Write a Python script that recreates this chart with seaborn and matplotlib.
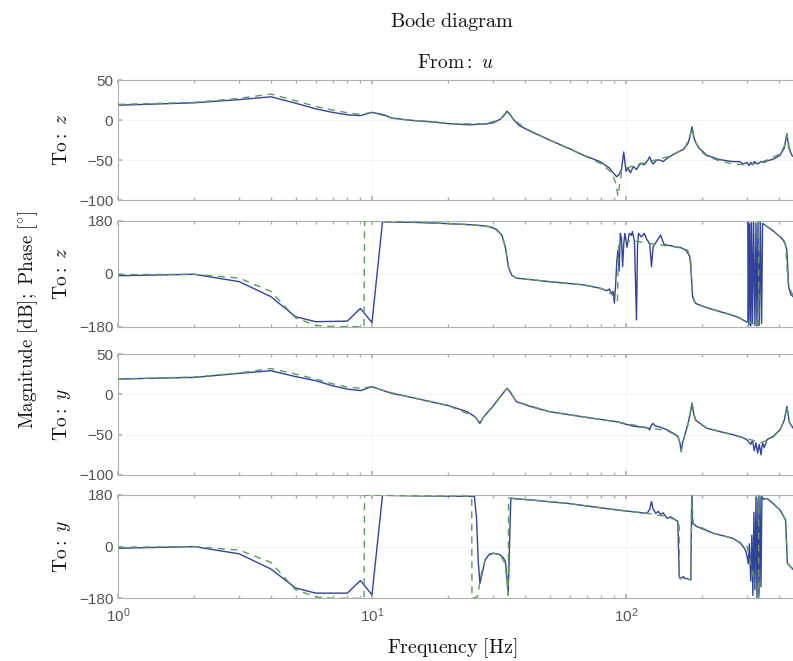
import numpy as np
import pandas as pd
import matplotlib
matplotlib.use("Agg")
import matplotlib.pyplot as plt
import seaborn as sns
from matplotlib.ticker import LogLocator, FixedLocator, NullFormatter

# ---------------- data ----------------
# Panel 1: magnitude, To: z
mz_f = [1, 2, 3, 4, 5, 6, 7, 8, 9, 10, 11, 12, 13, 15, 17, 20, 24, 28, 30, 32, 33, 34, 35, 36, 38, 42,
        50, 60, 68, 79, 86, 89, 92, 94, 96, 98, 100, 102, 104, 107, 110, 114, 118, 122, 124, 126, 128,
        132, 136, 140, 145, 150, 160, 168, 175, 179, 182, 185, 188, 195, 208, 230, 250, 264, 280, 290,
        300, 305, 310, 315, 320, 330, 340, 350, 360, 380, 404, 420, 430, 438, 450, 460]
mz_v = [18.5, 21.5, 25.5, 29, 21, 14, 9.5, 6.5, 5.5, 9.5, 7, 2.5, 1, -1, -2, -4.5, -6, -5, -3.5, 1, 5, 11,
        7, 1, -7, -14, -25, -36, -44, -52, -60, -66, -71, -68, -62, -40, -64, -60, -66, -58, -62, -54,
        -56, -50, -46, -52, -55, -50, -50, -52, -48, -45, -40, -37, -30, -20, -8.5, -22, -28, -36, -44,
        -49, -51, -52, -52, -55, -53, -57, -53, -56, -52, -55, -52, -53, -51, -49, -44, -35, -17, -35,
        -44, -47]
gz_f = [1, 2, 3, 4, 5, 6, 7, 8, 9, 10, 11, 12, 15, 20, 28, 32, 34, 36, 40, 50, 68, 80, 88, 91, 93, 94.5,
        96, 100, 120, 150, 170, 178, 182, 186, 195, 210, 233, 264, 300, 330, 360, 400, 420, 430, 440, 460]
gz_v = [19.5, 22, 27, 32.5, 24, 17, 12.5, 9, 7, 9.5, 6, 2, -1, -4.5, -5, 1, 11, 1, -10, -25, -44, -55,
        -66, -78, -95, -80, -65, -60, -53, -45, -36, -22, -9, -24, -38, -46, -51, -55, -56, -54, -50,
        -43, -33, -18, -35, -47]

# Panel 2: phase, To: z
pz_f = [1, 2, 3, 4, 5, 6, 7, 8, 9, 10, 11, 15, 20, 25, 29, 31, 32.5, 33.5, 34.5, 35.5, 37, 50, 68, 79,
        84, 86, 88, 89, 90, 91, 92, 93, 94, 95, 96, 97, 98, 99, 101, 103, 105, 106, 108, 110, 111, 112,
        115, 118, 121, 124, 126, 127, 128, 132, 137, 141, 145, 150, 155, 165, 172, 178, 180, 183, 188,
        200, 222, 260, 280, 297, 302, 303, 305, 307, 310, 312, 315, 318, 322, 325, 328, 331, 335, 338,
        342, 345, 360, 380, 404, 420, 430, 437, 445, 460]
pz_v = [-7, -2, -27, -78, -146, -163, -162, -161, -118, -166, 176, 174, 170, 166, 160, 150, 130, 90, 20,
        -5, -15, -27, -38, -49, -58, -52, -70, -60, -100, -40, 40, 80, 10, 137, 120, 24, 100, 137, 90,
        137, 130, 143, 110, -157, 90, 137, 125, 137, 115, 103, 24, 60, 92, 110, 131, 100, 97, 95, 92,
        88, 80, 60, 24, -80, -101, -110, -123, -140, -150, -163, -165, 175, -175, 170, -178, 175, -170,
        178, -176, 172, -178, 176, -175, 178, -170, 171, 160, 145, 126, 110, 80, -44, -70, -82]
gpz_f = [1, 2, 3, 4, 5, 6, 7, 8, 9, 9.3, 9.35, 10, 15, 25, 30, 32.5, 33.5, 34.5, 35.5, 37, 50, 68, 80,
         88, 92.5, 93.5, 96, 110, 130, 160, 175, 180, 182, 186, 200, 260, 297, 320, 333, 333.1, 345,
         360, 404, 425, 432, 437, 460]
gpz_v = [-3, -2, -15, -60, -150, -175, -180, -180, -180, -180, 180, 180, 175, 166, 158, 130, 90, 20, -5,
         -15, -27, -38, -50, -70, -95, 95, 110, 110, 100, 90, 80, 40, -60, -95, -110, -140, -160, -170,
         -180, 180, 170, 160, 126, 100, 0, -44, -82]

# Panel 3: magnitude, To: y
my_f = [1, 2, 3, 4, 5, 6, 7, 8, 9, 10, 11, 12, 13, 17, 20, 23.7, 25.5, 26.6, 27.5, 29.9, 32, 33.5, 34,
        35, 37, 42, 50, 68, 92, 107, 118, 122, 124, 126, 128, 130, 134, 140, 145, 155, 160, 163, 165,
        167, 170, 176, 180, 182, 185, 188, 208, 240, 264, 290, 300, 310, 315, 320, 325, 330, 335, 340,
        345, 350, 360, 380, 404, 420, 430, 440, 460]
my_v = [19, 21, 26, 29.3, 22, 17, 10.5, 6.5, 4.6, 9.5, 5, 1, -1, -9, -14, -21.5, -28, -36, -28, -15, -3,
        5, 7.5, 3, -9, -15, -21.5, -28, -34, -39.5, -41, -42, -44, -38, -36, -39, -40, -42, -44, -49,
        -52, -60, -71, -60, -52, -35, -20, -11, -25, -32, -42, -47, -50, -54, -56.6, -62, -57, -70,
        -60, -73, -62, -75, -60, -66, -56, -52, -44, -32, -15, -35, -44]
gy_f = [1, 2, 3, 4, 5, 6, 7, 8, 9, 10, 11, 13, 20, 25.5, 26.6, 27.5, 30, 32, 34, 35, 37, 50, 68, 92,
        120, 145, 160, 163, 165, 167, 170, 176, 182, 185, 190, 208, 264, 300, 340, 380, 404, 420, 430,
        440, 460]
gy_v = [19, 21.5, 26.5, 32, 25, 19, 13, 9, 7.5, 9.5, 5, -1, -14, -28, -36, -28, -15, -3, 7.5, 3, -9,
        -21.5, -28, -34, -41, -45, -52, -60, -70, -60, -52, -35, -11, -25, -34, -42, -50, -55, -60,
        -53, -44, -32, -15, -35, -44]

# Panel 4: phase, To: y
py_f = [1, 2, 3, 4, 5, 6, 7, 8, 9, 10, 11, 15, 20, 25.3, 25.8, 26.2, 26.6, 27.2, 27.9, 29, 30, 31.8, 33,
        33.5, 34.4, 35.2, 43, 58.6, 92, 121, 124, 126, 128, 131, 134, 137, 140, 145, 150, 155, 160, 162,
        165, 168, 170, 175, 180, 181.5, 183, 190, 222, 264, 283, 295, 300, 303, 306, 310, 313, 316, 319,
        322, 325, 328, 331, 334, 337, 340, 343, 348, 360, 380, 404, 425, 432, 460]
py_v = [-5.6, 0, -25, -78, -144, -162, -162, -162, -118, -168, 179, 177, 176, 175, 100, -50, -128, -90,
        -46, -26, -23, -27, -40, -52, -157, 168, 162, 151, 128, 116, 130, 157, 130, 116, 123, 112, 118,
        99, 104, 96, 88, -104, -112, -104, -110, -112, -116, 180, 81, 70, 46, 29, 11, -10, -35, -60, 10,
        -120, 40, -170, 120, -150, 175, -178, 170, -170, 178, -140, 175, 165, 168, 150, 128, 93, -58,
        -84]
gpy_f = [1, 2, 3, 4, 5, 6, 7, 8, 9, 9.3, 9.35, 10, 15, 24.7, 24.75, 26, 27, 28, 30, 32, 33.5, 34.4, 34.5,
         43, 58.6, 92, 121, 145, 160, 162, 162.1, 170, 180, 181.6, 184, 222, 264, 300, 320, 333, 333.1,
         345, 360, 404, 425, 432, 460]
gpy_v = [-2, 0, -12, -55, -150, -175, -180, -180, -180, -180, 180, 180, 177, 176, -180, -175, -90, -40,
         -23, -30, -60, -170, 170, 162, 151, 128, 116, 105, 90, 70, -110, -112, -116, 180, 80, 46, 29, 0,
         -120, -179, 179, 170, 166, 128, 93, -58, -84]

mag_ticks = [-100, -50, 0, 50]
phase_ticks = [-180, 0, 180]
row_labels = [r"$\mathrm{To:}\ z$", r"$\mathrm{To:}\ z$", r"$\mathrm{To:}\ y$", r"$\mathrm{To:}\ y$"]

# ---------------- figure ----------------
sns.set_theme(style="white")
plt.rcParams["mathtext.fontset"] = "cm"
plt.rcParams["font.family"] = ["Liberation Sans", "DejaVu Sans"]

W, H = 793, 661
fig = plt.figure(figsize=(W / 100, H / 100), dpi=100)

def fx(px):
    return px / W

def fy(py):
    return 1 - py / H

left = 118
right = 803.5  # xlim right edge (500 Hz) falls just past the image border
panels = [(80, 200), (220.7, 326.7), (354, 475), (495, 598.3)]

blue = "#33429f"
green = "#5a9e5a"

series = [
    (mz_f, mz_v, gz_f, gz_v, (-100, 50), mag_ticks),
    (pz_f, pz_v, gpz_f, gpz_v, (-180, 180), phase_ticks),
    (my_f, my_v, gy_f, gy_v, (-100, 50), mag_ticks),
    (py_f, py_v, gpy_f, gpy_v, (-180, 180), phase_ticks),
]

axes = []
for i, ((top, bot), (mf, mv, gf, gv, ylim, yt)) in enumerate(zip(panels, series)):
    ax = fig.add_axes([fx(left), fy(bot), fx(right - left), (bot - top) / H])
    dm = pd.DataFrame({"f": mf, "v": mv})
    dg = pd.DataFrame({"f": gf, "v": gv})
    sns.lineplot(data=dm, x="f", y="v", ax=ax, estimator=None, sort=False,
                 color=blue, linewidth=1.0, zorder=2)
    sns.lineplot(data=dg, x="f", y="v", ax=ax, estimator=None, sort=False,
                 color=green, linewidth=1.0, linestyle=(0, (5, 4)), zorder=3)
    ax.set_xscale("log")
    ax.set_xlim(1, 500)
    ax.set_ylim(*ylim)
    ax.yaxis.set_major_locator(FixedLocator(yt))
    ax.xaxis.set_major_locator(LogLocator(base=10))
    ax.xaxis.set_minor_locator(LogLocator(base=10, subs=np.arange(2, 10)))
    ax.xaxis.set_minor_formatter(NullFormatter())
    ax.set_xlabel("")
    ax.set_ylabel("")
    for s in ax.spines.values():
        s.set_color("#b0b0b0")
        s.set_linewidth(0.8)
    ax.tick_params(axis="both", which="both", direction="in", top=True, bottom=True,
                   left=True, right=False, colors="#b0b0b0", labelcolor="#555555",
                   labelsize=11)
    ax.tick_params(which="major", length=3)
    ax.tick_params(which="minor", length=2)
    ax.grid(True, which="major", color="#f2f2f2", linewidth=0.6)
    if i < 3:
        ax.tick_params(axis="x", labelbottom=False)
    ax.set_yticklabels([("\u2212" + str(-t)) if t < 0 else str(t) for t in yt])
    fig.text(fx(62), fy((top + bot) / 2), row_labels[i], rotation=90, ha="center",
             va="center", fontsize=14, color="#111111")
    axes.append(ax)

axes[-1].tick_params(axis="x", pad=6)

fig.text(fx(452), fy(22), r"$\mathrm{Bode\ diagram}$", ha="center", va="center",
         fontsize=14.6, color="#111111")
fig.text(fx(455), fy(63), r"$\mathrm{From:}\ u$", ha="center", va="center",
         fontsize=14, color="#111111")
fig.text(fx(28), fy(320), r"$\mathrm{Magnitude\ [dB];\ Phase\ [}^{\circ}\mathrm{]}$",
         rotation=90, ha="center", va="center", fontsize=13.8, color="#111111")
fig.text(fx(452), fy(648), r"$\mathrm{Frequency\ [Hz]}$", ha="center", va="center",
         fontsize=14.3, color="#111111")

fig.savefig("out.png", dpi=100)
